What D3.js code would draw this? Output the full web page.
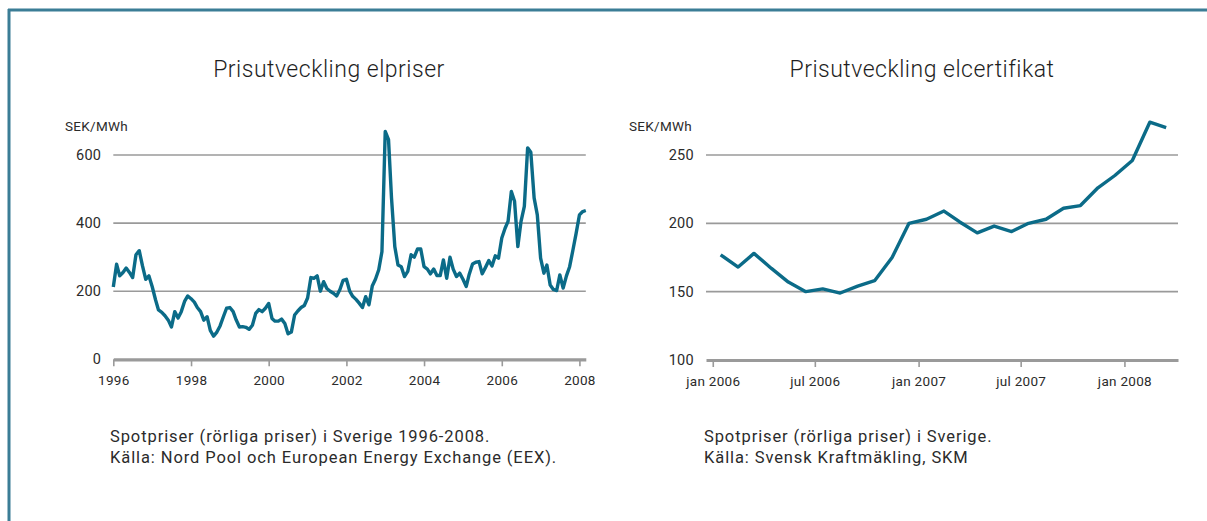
<!DOCTYPE html>
<html><head><meta charset="utf-8">
<script src="https://cdn.jsdelivr.net/npm/d3@7"></script>
<style>
html,body{margin:0;padding:0;background:#fff;}
svg{display:block;font-family:Roboto,"DejaVu Sans",sans-serif;}
</style></head>
<body>
<script>
// ---- Data ----
const spotStart = [1996, 0]; // Jan 1996, monthly
const spotValues = [
212,279,245,255,268,255,240,307,319,275,235,245,
213,175,145,138,128,115,95,140,121,140,170,186,
178,168,152,140,115,125,85,68,80,98,125,150,
152,140,116,95,96,94,88,100,135,146,140,150,
164,120,112,112,118,105,75,80,130,142,152,158,
180,240,238,245,200,228,208,200,194,186,205,232,
235,200,185,176,165,152,184,160,215,235,263,316,
669,645,474,331,277,272,243,258,307,300,324,324,
272,265,251,265,246,246,292,238,300,265,243,253,
235,214,250,280,285,287,251,270,290,274,304,297,
356,385,405,493,464,331,405,449,621,608,474,424,
297,253,277,218,205,202,248,209,245,272,321,370,
424,434,437];
const spotYTicks = [0, 200, 400, 600];
const spotXTickYears = [1996, 1998, 2000, 2002, 2004, 2006, 2008];

const certStart = [2006, 0]; // Jan 2006, monthly (mid-month)
const certValues = [177,168,178,167,157,150,152,149,154,158,175,200,
203,209,201,193,198,194,200,203,211,213,226,235,
246,274,270];
const certYTicks = [100, 150, 200, 250];
const certXTickLabels = ["jan 2006","jul 2006","jan 2007","jul 2007","jan 2008"];
const certXTickDates = [[2006,0],[2006,6],[2007,0],[2007,6],[2008,0]];

const titles = ["Prisutveckling elpriser", "Prisutveckling elcertifikat"];
const unitLabel = "SEK/MWh";
const captionsLeft = ["Spotpriser (rörliga priser) i Sverige 1996-2008.",
  "Källa: Nord Pool och European Energy Exchange (EEX)."];
const captionsRight = ["Spotpriser (rörliga priser) i Sverige.",
  "Källa: Svensk Kraftmäkling, SKM"];

// ---- Drawing ----
const W = 1207, H = 521;
const LINE = "#0b6b88", GRID = "#9a9a9a", TXT = "#2b2b2b", FRAME = "#3b7d96";
const svg = d3.select("body").append("svg").attr("width", W).attr("height", H);

// frame
svg.append("line").attr("x1", 8).attr("x2", W).attr("y1", 10).attr("y2", 10)
  .attr("stroke", FRAME).attr("stroke-width", 3);
svg.append("line").attr("x1", 9).attr("x2", 9).attr("y1", 9).attr("y2", H)
  .attr("stroke", FRAME).attr("stroke-width", 3);

function panel(cfg) {
  const g = svg.append("g");
  const x = d3.scaleTime().domain(cfg.xDomain).range(cfg.xRange);
  const y = d3.scaleLinear().domain(cfg.yDomain).range(cfg.yRange);
  // title
  g.append("text").attr("x", cfg.titleX).attr("y", 77).attr("text-anchor", "middle")
    .attr("font-size", 23).attr("font-weight", 300).attr("letter-spacing", 0.5)
    .attr("fill", "#1e1e1e").text(cfg.title);
  // unit
  g.append("text").attr("x", cfg.unitX).attr("y", 131).attr("font-size", 13.5)
    .attr("letter-spacing", 0.3).attr("fill", TXT).text(unitLabel);
  // grid
  const gridTicks = cfg.yTicks.slice(1);
  g.selectAll(".grid").data(gridTicks).join("line")
    .attr("x1", cfg.xRange[0]).attr("x2", cfg.xRange[1])
    .attr("y1", d => y(d)).attr("y2", d => y(d))
    .attr("stroke", GRID).attr("stroke-width", 1.6);
  // y labels
  g.selectAll(".yl").data(cfg.yTicks).join("text")
    .attr("x", cfg.xRange[0] - 12).attr("y", d => y(d) + 5)
    .attr("text-anchor", "end").attr("font-size", 14.5).attr("letter-spacing", 0.3)
    .attr("fill", TXT).text(d => d);
  // x axis
  const xAxis = d3.axisBottom(x).tickValues(cfg.xTicks).tickFormat((d, i) => cfg.xTickLabels[i])
    .tickSize(7).tickSizeOuter(0).tickPadding(9);
  const ax = g.append("g").attr("transform", `translate(0,${y(cfg.yDomain[0])})`).call(xAxis);
  ax.select(".domain").attr("stroke", GRID).attr("stroke-width", 3.2);
  ax.selectAll(".tick line").attr("stroke", GRID).attr("stroke-width", 1.6);
  ax.selectAll(".tick text").attr("font-size", 13.5).attr("fill", TXT)
    .attr("letter-spacing", 0.3).attr("font-family", "Roboto, sans-serif");
  // line
  const line = d3.line().x(d => x(d.date)).y(d => y(d.value)).curve(d3.curveLinear);
  g.append("path").datum(cfg.data).attr("d", line).attr("fill", "none")
    .attr("stroke", LINE).attr("stroke-width", 3.4).attr("stroke-linejoin", "round");
  // captions
  g.selectAll(".cap").data(cfg.captions).join("text")
    .attr("x", cfg.capX).attr("y", (d, i) => 442 + i * 21)
    .attr("font-size", 16.5).attr("letter-spacing", 0.9).attr("fill", TXT).text(d => d);
}

const spotData = spotValues.map((v, i) => ({date: new Date(spotStart[0], spotStart[1] + i, 1), value: v}));
panel({
  title: titles[0], titleX: 329, unitX: 65,
  xDomain: [new Date(1996, 0, 1), new Date(2008, 2, 1)], xRange: [113.3, 585.8],
  yDomain: [0, 600], yRange: [359.3, 155], yTicks: spotYTicks,
  xTicks: spotXTickYears.map(yr => new Date(yr, 0, 1)), xTickLabels: spotXTickYears.map(String),
  data: spotData, captions: captionsLeft, capX: 110
});

const certData = certValues.map((v, i) => ({date: new Date(certStart[0], certStart[1] + i, 15), value: v}));
panel({
  title: titles[1], titleX: 922, unitX: 629,
  xDomain: [new Date(2005, 11, 20), new Date(2008, 3, 5)], xRange: [706, 1178],
  yDomain: [100, 250], yRange: [360, 155], yTicks: certYTicks,
  xTicks: certXTickDates.map(d => new Date(d[0], d[1], 1)), xTickLabels: certXTickLabels,
  data: certData, captions: captionsRight, capX: 704
});
</script>
</body></html>
